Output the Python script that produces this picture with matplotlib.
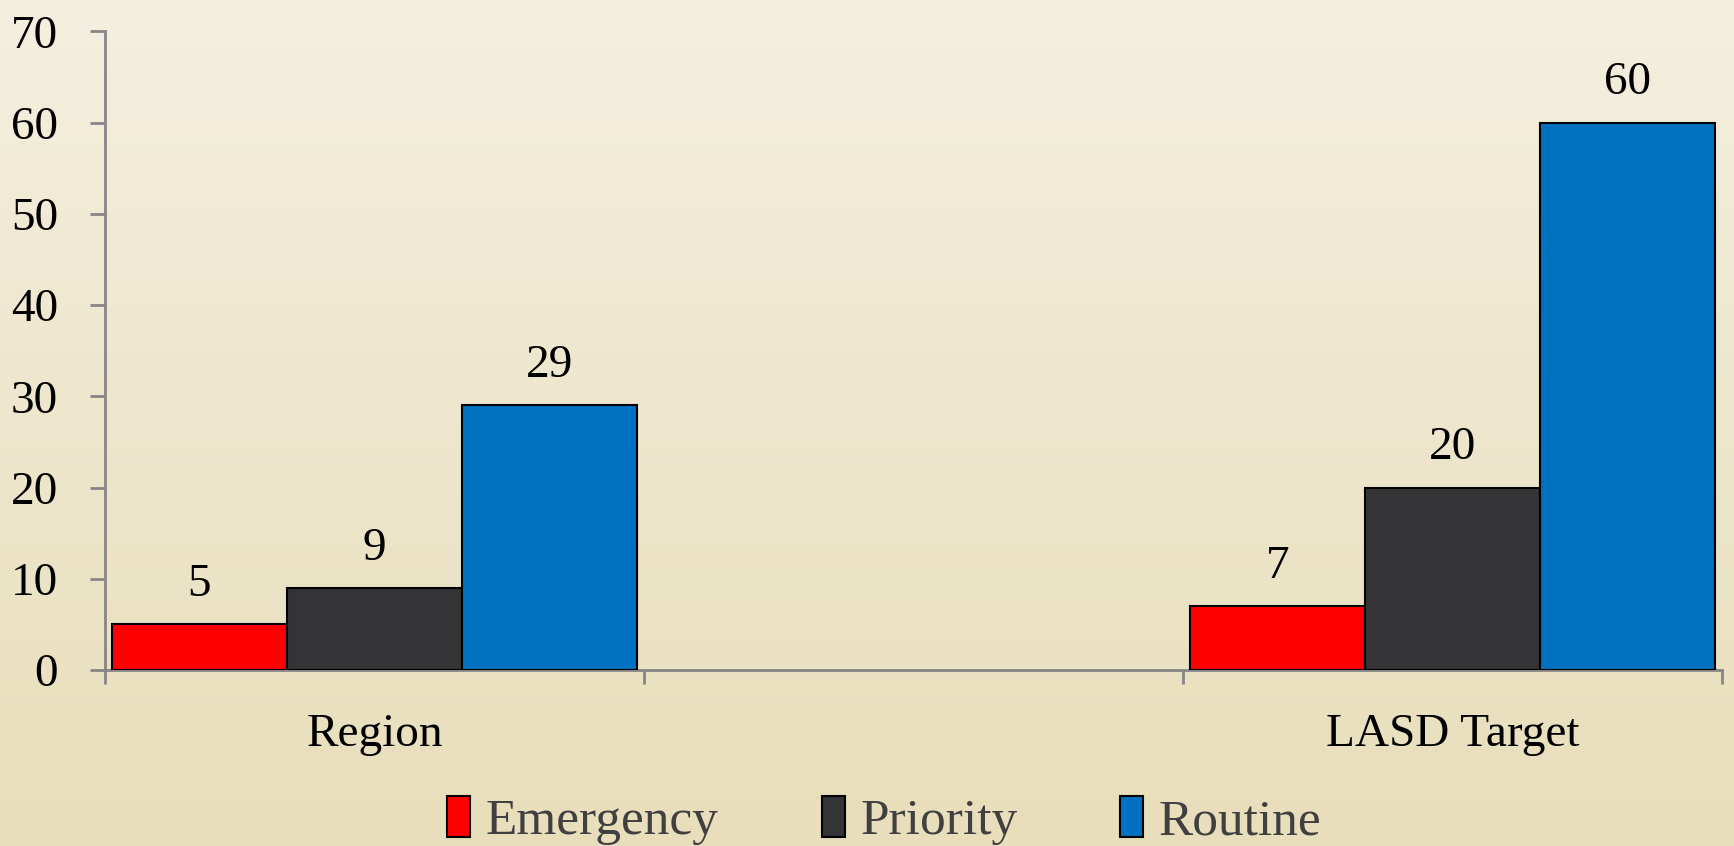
import numpy as np
import matplotlib.pyplot as plt
from matplotlib.colors import LinearSegmentedColormap

# data
categories = ['Region', '', 'LASD Target']
series = ['Emergency', 'Priority', 'Routine']
emergency = [5, np.nan, 7]
priority = [9, np.nan, 20]
routine = [29, np.nan, 60]
colors = ['#FF0000', '#343436', '#0070C0']
yticks = [0, 10, 20, 30, 40, 50, 60, 70]

plt.rcParams['font.family'] = ['Liberation Serif', 'DejaVu Serif']

fig = plt.figure(figsize=(17.34, 8.46), dpi=100)

# beige gradient background over the whole figure
bg = fig.add_axes([0, 0, 1, 1], zorder=-10)
grad = np.linspace(0, 1, 256).reshape(-1, 1)
cmap = LinearSegmentedColormap.from_list('bg', ['#F4EFDF', '#E8DEBB'])
bg.imshow(grad, aspect='auto', cmap=cmap, extent=[0, 1, 0, 1], origin='upper')
bg.axis('off')

ax = fig.add_axes([0.0606, 0.208, 0.9324, 0.755])
ax.set_facecolor('none')

x = np.arange(len(categories))
w = 0.325
for i, (vals, name) in enumerate(zip([emergency, priority, routine], series)):
    bars = ax.bar(x + (i - 1) * w, vals, w, color=colors[i], edgecolor='black',
                  linewidth=1.5, label=name, zorder=3)
    labels = ['' if np.isnan(v) else f'{v:g}' for v in vals]
    ax.bar_label(bars, labels=labels, padding=13, fontsize=34, color='black')

ax.set_xlim(-0.5, 2.5)
ax.set_ylim(0, 70)
ax.set_yticks(yticks)
ax.set_xticks(x)
ax.set_xticklabels(categories)
ax.set_xticks([-0.5, 0.5, 1.5, 2.5], minor=True)

for s in ['top', 'right']:
    ax.spines[s].set_visible(False)
for s in ['left', 'bottom']:
    ax.spines[s].set_color('#868686')
    ax.spines[s].set_linewidth(2)

ax.tick_params(axis='y', direction='out', length=11, width=2, color='#868686',
               labelsize=34, pad=23)
ax.tick_params(axis='x', which='major', length=0, labelsize=34, pad=31)
ax.tick_params(axis='x', which='minor', direction='out', length=10, width=2,
               color='#868686')

leg = fig.legend(loc='center', bbox_to_anchor=(0.51, 0.03), ncol=3, frameon=False,
                 fontsize=37, handlelength=0.45, handleheight=0.85, handletextpad=0.3,
                 columnspacing=2.0, labelcolor='#404040')

fig.savefig('out.png', dpi=100)
